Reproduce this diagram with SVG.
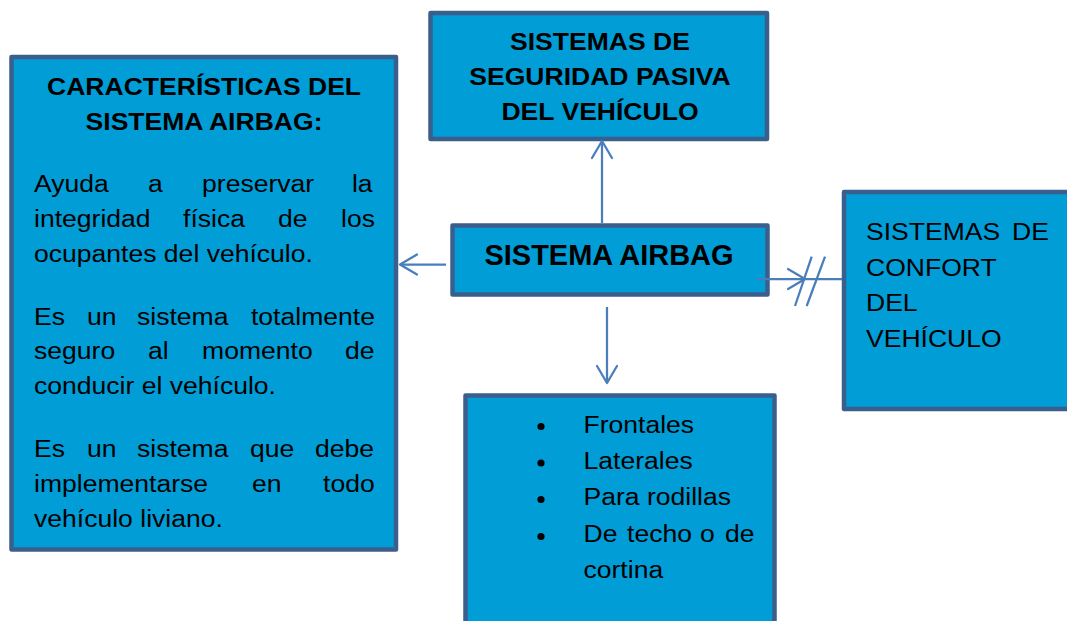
<svg xmlns="http://www.w3.org/2000/svg" width="1067" height="621" viewBox="0 0 1067 621">
<defs>
<style>
.box{fill:#009dd7;stroke:#3a5f8d;stroke-width:4.5;stroke-linejoin:round}
.t{font-family:"Liberation Sans",Arial,sans-serif;font-size:23.5px;fill:#000}
.b{font-weight:bold}
.c{text-anchor:middle}
.con{stroke:#4a7ebb;stroke-width:2.25;fill:none}
</style>
<marker id="arr" markerUnits="userSpaceOnUse" markerWidth="22" markerHeight="24" refX="18" refY="11" orient="auto" overflow="visible">
<path d="M1,1 L18,11 L1,21" fill="none" stroke="#4a7ebb" stroke-width="2.25" stroke-linecap="round" stroke-linejoin="round"/>
</marker>
</defs>
<rect width="1067" height="621" fill="#fff"/>

<g id="node-caracteristicas">
<rect class="box" x="11.5" y="57" width="384.5" height="492.5"/>
<g transform="translate(204,0) scale(1.13,1)">
<text class="t b c" x="0" y="95">CARACTERÍSTICAS DEL</text>
<text class="t b c" x="0" y="130">SISTEMA AIRBAG:</text>
</g>
<g transform="translate(34,0) scale(1.13,1)">
<text class="t" y="192"><tspan x="0">Ayuda</tspan><tspan x="100.9">a</tspan><tspan x="148.7">preservar</tspan><tspan x="281.4">la</tspan></text>
<text class="t" y="227"><tspan x="0">integridad</tspan><tspan x="131.9">física</tspan><tspan x="215.9">de</tspan><tspan x="271.7">los</tspan></text>
<text class="t" x="0" y="262">ocupantes del vehículo.</text>
<text class="t" y="325"><tspan x="0">Es</tspan><tspan x="46.9">un</tspan><tspan x="91.2">sistema</tspan><tspan x="192">totalmente</tspan></text>
<text class="t" y="359.5"><tspan x="0">seguro</tspan><tspan x="100.9">al</tspan><tspan x="148.7">momento</tspan><tspan x="275.2">de</tspan></text>
<text class="t" x="0" y="394">conducir el vehículo.</text>
<text class="t" y="457"><tspan x="0">Es</tspan><tspan x="46.9">un</tspan><tspan x="91.2">sistema</tspan><tspan x="191.2">que</tspan><tspan x="248.7">debe</tspan></text>
<text class="t" y="492"><tspan x="0">implementarse</tspan><tspan x="192.9">en</tspan><tspan x="255.8">todo</tspan></text>
<text class="t" x="0" y="527">vehículo liviano.</text>
</g>
</g>

<g id="node-seguridad-pasiva">
<rect class="box" x="430.5" y="13" width="336.5" height="126"/>
<g transform="translate(600,0) scale(1.13,1)">
<text class="t b c" x="0" y="50">SISTEMAS DE</text>
<text class="t b c" x="0" y="85">SEGURIDAD PASIVA</text>
<text class="t b c" x="0" y="120">DEL VEHÍCULO</text>
</g>
</g>

<g id="node-airbag">
<rect class="box" x="452.5" y="225.5" width="315" height="69"/>
<text class="t b c" x="609" y="265" style="font-size:29px">SISTEMA AIRBAG</text>
</g>

<g id="node-confort">
<rect class="box" x="844" y="192" width="240" height="217"/>
<g transform="translate(866,0) scale(1.13,1)">
<text class="t" y="240"><tspan x="0">SISTEMAS</tspan><tspan x="129.2">DE</tspan></text>
<text class="t" x="0" y="276">CONFORT</text>
<text class="t" x="0" y="311.5">DEL</text>
<text class="t" x="0" y="347">VEHÍCULO</text>
</g>
</g>

<g id="node-tipos">
<rect class="box" x="465.5" y="395.5" width="309" height="240"/>
<g fill="#000">
<circle cx="541" cy="426.5" r="3.6"/>
<circle cx="541" cy="463" r="3.6"/>
<circle cx="541" cy="499.5" r="3.6"/>
<circle cx="541" cy="536.5" r="3.6"/>
</g>
<g transform="translate(583.5,0) scale(1.13,1)">
<text class="t" x="0" y="433.5">Frontales</text>
<text class="t" x="0" y="469.5">Laterales</text>
<text class="t" x="0" y="505.5">Para rodillas</text>
<text class="t" y="542.5"><tspan x="0">De</tspan><tspan x="38.5">techo</tspan><tspan x="103">o</tspan><tspan x="125.2">de</tspan></text>
<text class="t" x="0" y="578">cortina</text>
</g>
</g>

<g id="connectors">
<line class="con" x1="602" y1="223" x2="602" y2="141" marker-end="url(#arr)"/>
<line class="con" x1="446" y1="264.5" x2="400" y2="264.5" marker-end="url(#arr)"/>
<line class="con" x1="607" y1="307" x2="607" y2="383" marker-end="url(#arr)"/>
<line class="con" x1="757" y1="279" x2="805" y2="279" marker-end="url(#arr)"/>
<line class="con" x1="805" y1="279" x2="842" y2="279"/>
<line class="con" x1="811.7" y1="256.7" x2="795" y2="306"/>
<line class="con" x1="825" y1="256.7" x2="806.7" y2="306"/>
</g>
</svg>
